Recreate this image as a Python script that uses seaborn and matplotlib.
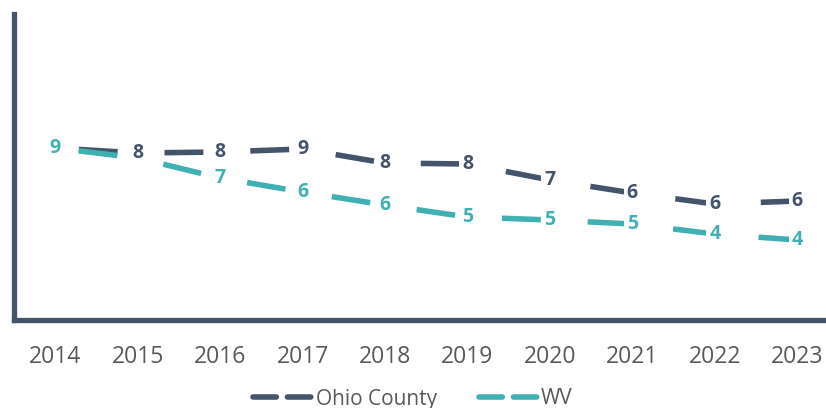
import pandas as pd
import numpy as np
import seaborn as sns
import matplotlib.pyplot as plt
from matplotlib.lines import Line2D

years = ["2014", "2015", "2016", "2017", "2018", "2019", "2020", "2021", "2022", "2023"]
ohio = [8.6, 8.35, 8.4, 8.55, 7.85, 7.8, 7.0, 6.35, 5.8, 5.95]
wv = [8.6, 8.1, 7.1, 6.4, 5.75, 5.15, 5.0, 4.8, 4.3, 4.0]
series = ["Ohio County", "WV"]
colors = {"Ohio County": "#44546A", "WV": "#41B0B3"}

df = pd.DataFrame({
    "year": years * 2,
    "x": list(range(len(years))) * 2,
    "value": ohio + wv,
    "series": [series[0]] * len(years) + [series[1]] * len(years),
})

sns.set_style("white")
plt.rcParams["font.family"] = ["Open Sans", "DejaVu Sans"]

fig = plt.figure(figsize=(8.26, 4.08), dpi=100)
ax = fig.add_axes([14 / 826, 88 / 408, 812 / 826, 306 / 408])

sns.lineplot(data=df, x="x", y="value", hue="series", palette=colors,
             linewidth=4.0, ax=ax, legend=False, sort=False)

# long dashes centred between points
for line in ax.get_lines():
    line.set_linestyle((11.2, (7.0, 8.45)))
    line.set_dash_capstyle("butt")

for name, vals in zip(series, [ohio, wv]):
    for i, v in enumerate(vals):
        # ohio labels sit on top, unless both series share the same point
        z = 6 if name == "Ohio County" else 5
        if name == "Ohio County" and ohio[i] == wv[i]:
            z = 4
        ax.text(i, v, f"{round(v):.0f}", ha="center", va="center",
                fontsize=14, fontweight="bold", color=colors[name], zorder=z,
                bbox=dict(boxstyle="square,pad=0.15", fc="white", ec="none"))

ax.set_xlim(-0.5, 9.35)
ax.set_ylim(0, 15.3)
ax.set_xticks(range(len(years)))
ax.set_xticklabels(years)
ax.set_yticks([])
ax.set_xlabel("")
ax.set_ylabel("")
ax.tick_params(axis="x", length=0, pad=18, labelsize=16.5, labelcolor="#595959")

for s in ["top", "right"]:
    ax.spines[s].set_visible(False)
for s in ["left", "bottom"]:
    ax.spines[s].set_color("#44546A")
    ax.spines[s].set_linewidth(3.8)

handles = [Line2D([], [], color=colors[n], linewidth=4.0,
                  linestyle=(0, (4.2, 2.0)), dash_capstyle="round") for n in series]
fig.legend(handles, series, loc="center", bbox_to_anchor=(0.5, 9 / 408),
           ncol=2, frameon=False, fontsize=15, handlelength=2.9,
           handletextpad=0.1, columnspacing=2.0, labelcolor="#595959")

fig.savefig("out.png", dpi=100)
